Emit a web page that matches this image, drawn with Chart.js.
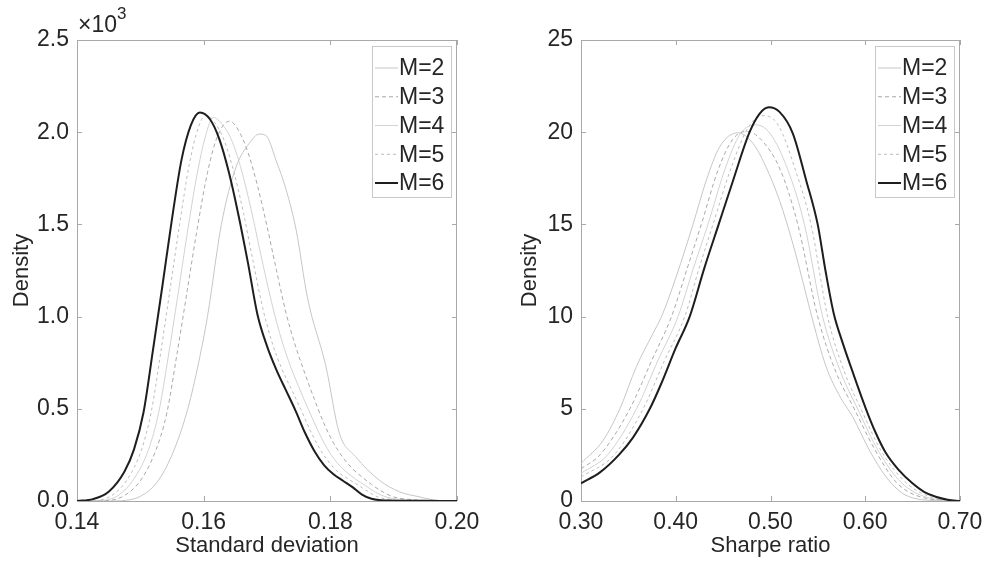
<!DOCTYPE html>
<html>
<head>
<meta charset="utf-8">
<script src="https://cdn.jsdelivr.net/npm/chart.js@4.4.1/dist/chart.umd.min.js"></script>
<style>
  body { margin: 0; background: #fff; }
  #wrap { position: relative; width: 986px; height: 571px; }
  canvas { position: absolute; top: 0; }
</style>
</head>
<body>
<div id="wrap">
  <canvas id="sd" width="493" height="571" style="left:0"></canvas>
  <canvas id="sr" width="493" height="571" style="left:493px"></canvas>
</div>
<script>
const seriesLabels = ['M=2', 'M=3', 'M=4', 'M=5', 'M=6'];

// standard deviation densities, [x, density]
const sdM2 = [[0.140,0],[0.146,0],[0.148,5],[0.150,25],[0.1526,100],[0.1550,250],[0.1575,500],[0.1592,750],[0.1606,1000],[0.1628,1500],[0.1651,1810],[0.1672,1940],[0.1688,1990],[0.1699,1980],[0.1714,1850],[0.1730,1690],[0.1746,1470],[0.1764,1100],[0.1793,730],[0.1814,370],[0.1840,240],[0.1877,114],[0.1909,50],[0.1940,23],[0.1970,3],[0.200,0]];
const sdM3 = [[0.140,0],[0.145,3],[0.1475,30],[0.1500,110],[0.1525,280],[0.1542,480],[0.1558,800],[0.1574,1140],[0.1590,1480],[0.1606,1780],[0.1622,1980],[0.1641,2060],[0.1655,2010],[0.1670,1890],[0.1685,1710],[0.1700,1490],[0.1715,1250],[0.1730,1020],[0.1745,840],[0.1760,690],[0.1775,550],[0.1790,420],[0.1805,315],[0.1820,235],[0.1835,175],[0.1850,130],[0.1865,90],[0.1880,55],[0.1900,22],[0.1930,7],[0.1970,1],[0.200,0]];
const sdM4 = [[0.140,0],[0.144,3],[0.1465,30],[0.1490,120],[0.1513,280],[0.1529,480],[0.1544,780],[0.1559,1110],[0.1574,1450],[0.1589,1760],[0.1603,1980],[0.1615,2080],[0.1630,2040],[0.1645,1950],[0.1660,1790],[0.1675,1580],[0.1690,1340],[0.1705,1110],[0.1720,910],[0.1735,750],[0.1750,620],[0.1765,500],[0.1780,385],[0.1795,285],[0.1810,210],[0.1825,158],[0.1840,118],[0.1855,85],[0.1870,50],[0.1890,20],[0.1920,6],[0.1960,1],[0.200,0]];
const sdM5 = [[0.140,0],[0.143,3],[0.1455,30],[0.1480,120],[0.1502,280],[0.1517,480],[0.1532,800],[0.1547,1150],[0.1562,1500],[0.1577,1820],[0.1592,2030],[0.1603,2090],[0.1618,2050],[0.1633,1950],[0.1648,1780],[0.1663,1560],[0.1678,1300],[0.1693,1050],[0.1708,860],[0.1723,720],[0.1738,610],[0.1753,500],[0.1768,385],[0.1783,285],[0.1798,210],[0.1813,155],[0.1828,120],[0.1843,88],[0.1858,55],[0.1875,22],[0.1900,7],[0.1950,1],[0.200,0]];
const sdM6 = [[0.140,0],[0.1425,10],[0.145,50],[0.1475,160],[0.1490,280],[0.1505,480],[0.1520,820],[0.1535,1170],[0.1550,1530],[0.1565,1850],[0.1580,2040],[0.1594,2107],[0.1610,2070],[0.1625,1960],[0.1640,1780],[0.1655,1550],[0.1670,1290],[0.1685,1010],[0.1700,840],[0.1715,710],[0.1730,600],[0.1745,490],[0.1760,370],[0.1775,270],[0.1790,195],[0.1805,145],[0.1820,110],[0.1835,75],[0.1850,35],[0.1865,12],[0.1880,4],[0.1900,2],[0.1950,1],[0.200,0]];

// sharpe ratio densities, [x, density]
const srM2 = [[0.30,2.04],[0.3235,3.3],[0.341,5.0],[0.3586,7.3],[0.3761,9.1],[0.385,10],[0.4007,12.2],[0.4182,15.0],[0.4323,17.4],[0.4463,19.2],[0.4656,19.97],[0.4814,19.4],[0.4954,18.1],[0.5095,16.3],[0.5235,13.97],[0.5376,11.2],[0.5435,10.0],[0.5586,7.3],[0.5740,5.6],[0.5814,5.0],[0.5867,4.57],[0.6042,2.77],[0.6218,1.32],[0.6393,0.42],[0.664,0.05],[0.70,0]];
const srM3 = [[0.30,1.75],[0.32,2.5],[0.3516,5.0],[0.3745,7.6],[0.3955,10.0],[0.4120,12.6],[0.4270,15.0],[0.4450,18.0],[0.4600,19.6],[0.4750,20.05],[0.4900,19.6],[0.5100,18.0],[0.5288,15.0],[0.5498,10.0],[0.5690,7.0],[0.5884,5.0],[0.6100,2.8],[0.6330,1.0],[0.6600,0.2],[0.70,0]];
const srM4 = [[0.30,1.5],[0.328,2.5],[0.3586,5.0],[0.381,7.6],[0.4024,10.0],[0.4185,12.6],[0.4340,15.0],[0.4520,18.0],[0.4680,19.9],[0.4850,20.4],[0.5000,19.9],[0.5180,18.0],[0.5358,15.0],[0.5550,10.0],[0.5740,7.0],[0.5919,5.0],[0.6140,2.7],[0.6380,1.0],[0.6650,0.2],[0.70,0]];
const srM5 = [[0.30,1.3],[0.335,2.5],[0.3656,5.0],[0.388,7.6],[0.4095,10.0],[0.4245,12.6],[0.4393,15.0],[0.4580,18.0],[0.4770,20.3],[0.4930,20.9],[0.5080,20.4],[0.5260,18.0],[0.5428,15.0],[0.5603,10.0],[0.5780,7.0],[0.5954,5.0],[0.6170,2.7],[0.6430,1.0],[0.6700,0.2],[0.70,0]];
const srM6 = [[0.30,0.96],[0.32,1.55],[0.34,2.5],[0.355,3.45],[0.3726,5.0],[0.385,6.4],[0.400,8.3],[0.4147,10.0],[0.430,12.6],[0.4453,15.0],[0.460,17.3],[0.4779,20.0],[0.4884,21.0],[0.4982,21.35],[0.5095,21.1],[0.5235,19.94],[0.5376,17.4],[0.5498,15.0],[0.5580,12.5],[0.5666,10.2],[0.5760,8.6],[0.5867,7.0],[0.6007,5.0],[0.6110,3.7],[0.6218,2.6],[0.6350,1.7],[0.6498,0.96],[0.6620,0.5],[0.6744,0.23],[0.6870,0.07],[0.70,0]];

const FONT = '"Liberation Sans", Arial, Helvetica, sans-serif';
const TEXT = '#262626';
const AXIS = '#a8a8a8';

const lineStyles = [
  { color: '#c6c6c6', width: 1, dash: [] },
  { color: '#a9a9a9', width: 1, dash: [4, 3] },
  { color: '#d2d2d2', width: 1, dash: [] },
  { color: '#bcbcbc', width: 1, dash: [3, 3] },
  { color: '#1e1e1e', width: 2, dash: [] }
];

function makeDatasets(seriesList) {
  return seriesList.map((pts, i) => ({
    label: seriesLabels[i],
    data: pts.map(p => ({ x: p[0], y: p[1] })),
    borderColor: lineStyles[i].color,
    borderWidth: lineStyles[i].width,
    borderDash: lineStyles[i].dash,
    pointRadius: 0,
    fill: false,
    cubicInterpolationMode: 'monotone',
    order: i === 4 ? 0 : 1
  }));
}

// box + inward ticks like the original figure
const axesFrame = {
  id: 'axesFrame',
  beforeDatasetsDraw(chart) {
    const { ctx, chartArea: a, scales: { x, y } } = chart;
    ctx.save();
    ctx.strokeStyle = AXIS;
    ctx.lineWidth = 1;
    ctx.strokeRect(a.left + 0.5, a.top + 0.5, a.right - a.left - 1, a.bottom - a.top);
    ctx.beginPath();
    x.ticks.forEach(t => {
      const px = Math.round(x.getPixelForValue(t.value)) + 0.5;
      ctx.moveTo(px, a.bottom); ctx.lineTo(px, a.bottom - 5);
      ctx.moveTo(px, a.top); ctx.lineTo(px, a.top + 5);
    });
    y.ticks.forEach(t => {
      const py = Math.round(y.getPixelForValue(t.value)) + 0.5;
      ctx.moveTo(a.left, py); ctx.lineTo(a.left + 5, py);
      ctx.moveTo(a.right, py); ctx.lineTo(a.right - 5, py);
    });
    ctx.stroke();
    ctx.restore();
  }
};

const legendBox = {
  id: 'legendBox',
  afterDraw(chart) {
    const { ctx, chartArea: a } = chart;
    const sets = chart.data.datasets;
    const w = 79, rowH = 28.75, top = a.top + 6, h = 151;
    const left = a.right - 6 - w;
    ctx.save();
    ctx.fillStyle = '#fff';
    ctx.fillRect(left, top, w, h);
    ctx.strokeStyle = '#c8c8c8';
    ctx.lineWidth = 1;
    ctx.strokeRect(left + 0.5, top + 0.5, w, h);
    ctx.font = '23px ' + FONT;
    ctx.textBaseline = 'middle';
    sets.forEach((ds, i) => {
      const cy = top + 22 + i * rowH;
      ctx.strokeStyle = ds.borderColor;
      ctx.lineWidth = ds.borderWidth;
      ctx.setLineDash(ds.borderDash);
      ctx.beginPath();
      ctx.moveTo(left + 3, cy);
      ctx.lineTo(left + 26, cy);
      ctx.stroke();
      ctx.setLineDash([]);
      ctx.fillStyle = TEXT;
      ctx.fillText(ds.label, left + 27, cy + 1);
    });
    ctx.restore();
  }
};

const exponentLabel = {
  id: 'exponentLabel',
  afterDraw(chart) {
    const { ctx, chartArea: a } = chart;
    ctx.save();
    ctx.fillStyle = TEXT;
    ctx.textBaseline = 'alphabetic';
    ctx.font = '23px ' + FONT;
    ctx.fillText('\u00d710', a.left + 1, a.top - 8);
    const w = ctx.measureText('\u00d710').width;
    ctx.font = '17px ' + FONT;
    ctx.fillText('3', a.left + 1 + w, a.top - 21);
    ctx.restore();
  }
};

function axisOpts(min, max, step, fmt, title, fitSize, horizontal) {
  return {
    type: 'linear',
    min: min,
    max: max,
    border: { display: false },
    grid: { display: false, drawTicks: false },
    ticks: {
      stepSize: step,
      autoSkip: false,
      maxRotation: 0,
      padding: 8,
      color: TEXT,
      font: { family: FONT, size: 23 },
      callback: fmt
    },
    title: {
      display: true,
      text: title,
      color: TEXT,
      font: { family: FONT, size: 22 },
      padding: horizontal ? { top: 0, bottom: 12 } : { top: 6, bottom: 0 }
    },
    afterFit(scale) {
      if (horizontal) {
        scale.height = fitSize;
        scale.paddingLeft = 0;
        scale.paddingRight = 0;
      } else {
        scale.width = fitSize;
        scale.paddingTop = 0;
        scale.paddingBottom = 0;
      }
    }
  };
}

function buildChart(id, seriesList, xCfg, yCfg, pad, extra) {
  return new Chart(document.getElementById(id), {
    type: 'line',
    data: { datasets: makeDatasets(seriesList) },
    options: {
      responsive: false,
      animation: false,
      layout: { padding: pad },
      plugins: { legend: { display: false }, tooltip: { enabled: false } },
      scales: { x: xCfg, y: yCfg }
    },
    plugins: [axesFrame, legendBox].concat(extra)
  });
}

buildChart('sd', [sdM2, sdM3, sdM4, sdM5, sdM6],
  axisOpts(0.14, 0.20, 0.02, v => v.toFixed(2), 'Standard deviation', 70, true),
  axisOpts(0, 2500, 500, v => (v / 1000).toFixed(1), 'Density', 74, false),
  { top: 40, right: 36, left: 3, bottom: 0 }, [exponentLabel]);

buildChart('sr', [srM2, srM3, srM4, srM5, srM6],
  axisOpts(0.30, 0.70, 0.10, v => v.toFixed(2), 'Sharpe ratio', 70, true),
  axisOpts(0, 25, 5, v => String(v), 'Density', 70, false),
  { top: 40, right: 26, left: 18, bottom: 0 }, []);
</script>
</body>
</html>
